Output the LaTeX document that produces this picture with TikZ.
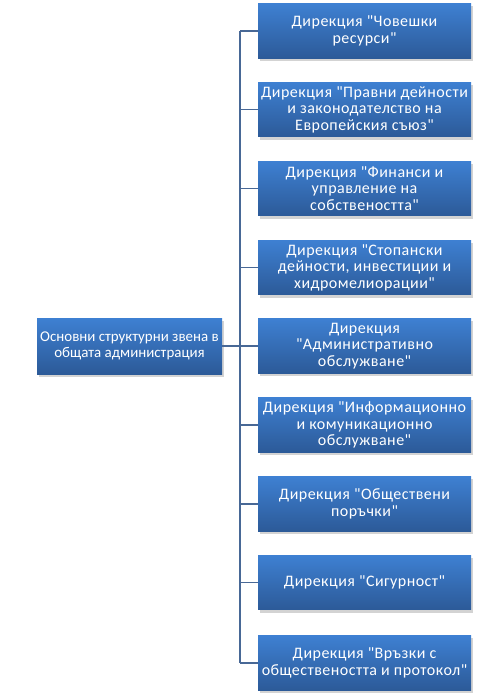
\documentclass[tikz,border=0pt]{standalone}
\usepackage{fontspec}
\setmainfont{Carlito}[LetterSpace=3, Ligatures=TeXOff]
\newfontfamily\rootfont{Carlito}[Ligatures=TeXOff]
\usetikzlibrary{shadows}
\definecolor{boxtop}{RGB}{62,128,210}
\definecolor{boxbot}{RGB}{44,90,152}
\definecolor{linec}{RGB}{72,104,150}
\tikzset{
  dirbox/.style={rectangle, top color=boxtop, bottom color=boxbot, draw=none,
    text=white, align=center, font=\fontsize{12pt}{12.4pt}\selectfont,
    minimum width=159.75pt, minimum height=41pt, inner sep=0pt,
    drop shadow={opacity=0.35, shadow xshift=1.5pt, shadow yshift=-2pt}},
  rootbox/.style={dirbox, minimum width=138.75pt, minimum height=42pt,
    font=\rootfont\fontsize{11.2pt}{12.4pt}\selectfont},
  conn/.style={draw=linec, line width=1.1pt}
}
\begin{document}
\begin{tikzpicture}[x=0.75pt,y=-0.75pt]
\useasboundingbox (0,0) rectangle (480,699);
\node[rootbox] (L) at (129.5,346) {Основни структурни звена в\\общата администрация};
\node[dirbox] (B1) at (364.5,31) {Дирекция "Човешки\\ресурси"};
\node[dirbox] (B2) at (364.5,109.5) {Дирекция "Правни дейности\\и законодателство на\\Европейския съюз"};
\node[dirbox] (B3) at (364.5,188.5) {Дирекция "Финанси и\\управление на\\собствеността"};
\node[dirbox] (B4) at (364.5,267.5) {Дирекция "Стопански\\дейности, инвестиции и\\хидромелиорации"};
\node[dirbox] (B5) at (364.5,346) {Дирекция\\"Административно\\обслужване"};
\node[dirbox] (B6) at (364.5,425) {Дирекция "Информационно\\и комуникационно\\обслужване"};
\node[dirbox] (B7) at (364.5,504) {Дирекция "Обществени\\поръчки"};
\node[dirbox] (B8) at (364.5,582.5) {Дирекция "Сигурност"};
\node[dirbox] (B9) at (364.5,663) {Дирекция "Връзки с\\обществеността и протокол"};
\coordinate (J) at (240,346);
\draw[conn] (L.east) -- (J);
\draw[conn] (J |- B1.west) -- (J |- B9.west);
\foreach \b in {B1,B2,B3,B4,B5,B6,B7,B8,B9}{
  \draw[conn] (J |- \b.west) -- (\b.west);
}
\end{tikzpicture}
\end{document}
